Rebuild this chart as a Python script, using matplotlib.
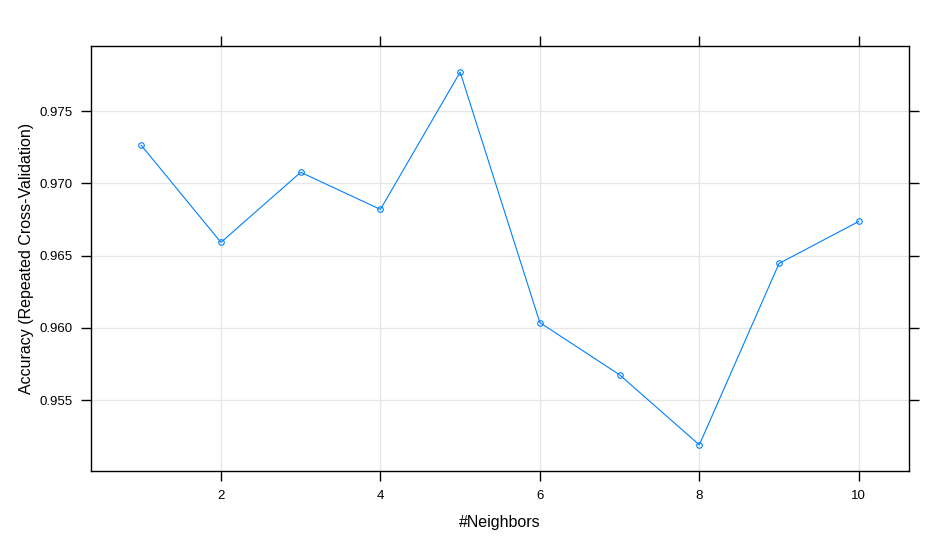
import matplotlib
matplotlib.use("Agg")
import matplotlib.pyplot as plt
import numpy as np

neighbors = [1, 2, 3, 4, 5, 6, 7, 8, 9, 10]
accuracy = [0.97264, 0.96592, 0.97077, 0.96820, 0.97770,
            0.96037, 0.95676, 0.95191, 0.96446, 0.96737]
xticks = [2, 4, 6, 8, 10]
yticks = [0.955, 0.960, 0.965, 0.970, 0.975]

plt.rcParams['font.family'] = ['Liberation Sans', 'DejaVu Sans']

fig = plt.figure(figsize=(9.48, 5.5), dpi=100)
ax = fig.add_axes([91/948, 79/550, (909-91)/948, (471-46)/550])

ax.plot(neighbors, accuracy, color='#0080ff', lw=0.8, marker='o',
        markersize=4, markerfacecolor='none', markeredgecolor='#0080ff',
        markeredgewidth=0.8, zorder=3)

xr = max(neighbors) - min(neighbors)
ax.set_xlim(min(neighbors) - 0.07 * xr, max(neighbors) + 0.07 * xr)
yr = max(accuracy) - min(accuracy)
ax.set_ylim(min(accuracy) - 0.07 * yr, max(accuracy) + 0.07 * yr)

ax.set_xticks(xticks)
ax.set_xticklabels([str(t) for t in xticks])
ax.set_yticks(yticks)
ax.set_yticklabels([f"{t:.3f}" for t in yticks])

ax.grid(True, color='#e6e6e6', lw=0.9, zorder=0)
ax.set_axisbelow(True)
for s in ax.spines.values():
    s.set_linewidth(1.0)
    s.set_color('black')
ax.tick_params(direction='out', length=7, width=1.0, top=True, right=True,
               labeltop=False, labelright=False, labelsize=9.5)
ax.tick_params(axis='y', pad=6.5)
ax.tick_params(axis='x', pad=7)

ax.set_xlabel('#Neighbors', fontsize=11.5, labelpad=9)
ax.set_ylabel('Accuracy (Repeated Cross-Validation)', fontsize=11.5, labelpad=4)

fig.savefig('out.png', dpi=100, facecolor='white')
